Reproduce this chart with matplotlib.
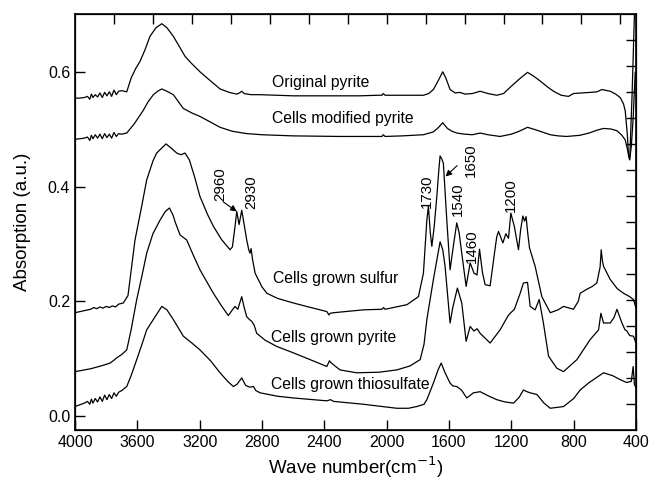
import numpy as np
from matplotlib import pyplot as plt

plt.rcParams['font.family'] = ['Liberation Sans', 'DejaVu Sans']
plt.rcParams['axes.unicode_minus'] = False

# wavenumber (cm-1) / absorbance
orig_w = [4000, 3970, 3940, 3920, 3905, 3895, 3885, 3870, 3855, 3840, 3825, 3810, 3795, 3780,
          3765, 3750, 3735, 3720, 3700, 3668, 3640, 3610, 3583, 3550, 3519, 3480, 3443, 3410,
          3369, 3330, 3294, 3250, 3198, 3130, 3069, 3010, 2962, 2945, 2930, 2915, 2870, 2812,
          2600, 2400, 2170, 2060, 2030, 2022, 2010, 1900, 1764, 1730, 1700, 1670, 1640, 1620,
          1593, 1560, 1530, 1496, 1450, 1400, 1350, 1293, 1250, 1207, 1150, 1096, 1060, 1015,
          970, 929, 880, 833, 801, 750, 694, 650, 619, 565, 530, 501, 480, 469, 455, 448,
          440, 425, 410, 402]
orig_a = [0.555, 0.555, 0.556, 0.558, 0.553, 0.562, 0.556, 0.561, 0.557, 0.564, 0.556, 0.565,
          0.559, 0.566, 0.558, 0.569, 0.561, 0.567, 0.568, 0.566, 0.590, 0.607, 0.619, 0.640,
          0.663, 0.678, 0.685, 0.678, 0.663, 0.645, 0.628, 0.615, 0.601, 0.585, 0.571, 0.565,
          0.562, 0.564, 0.567, 0.563, 0.561, 0.561, 0.559, 0.559, 0.559, 0.560, 0.560, 0.563,
          0.560, 0.560, 0.560, 0.563, 0.570, 0.585, 0.601, 0.590, 0.570, 0.564, 0.565, 0.562,
          0.563, 0.567, 0.563, 0.560, 0.563, 0.574, 0.588, 0.600, 0.594, 0.585, 0.575, 0.567,
          0.560, 0.558, 0.563, 0.564, 0.565, 0.566, 0.570, 0.567, 0.562, 0.556, 0.545, 0.533,
          0.490, 0.455, 0.448, 0.560, 0.700, 0.760]

mod_w = [4000, 3970, 3940, 3920, 3905, 3895, 3885, 3870, 3855, 3840, 3825, 3810, 3795, 3780,
         3765, 3750, 3735, 3720, 3700, 3668, 3620, 3561, 3530, 3497, 3470, 3443, 3410, 3369,
         3305, 3250, 3198, 3130, 3069, 2990, 2898, 2800, 2600, 2299, 2030, 2022, 2010, 1900,
         1764, 1700, 1670, 1640, 1610, 1580, 1550, 1500, 1450, 1400, 1350, 1272, 1200, 1150,
         1096, 1060, 1015, 950, 900, 844, 760, 700, 650, 608, 560, 522, 490, 469, 450, 441,
         430, 418, 405]
mod_a = [0.483, 0.484, 0.485, 0.487, 0.481, 0.490, 0.484, 0.491, 0.485, 0.492, 0.484, 0.493,
         0.486, 0.492, 0.485, 0.495, 0.488, 0.493, 0.492, 0.494, 0.510, 0.534, 0.549, 0.561,
         0.567, 0.571, 0.567, 0.561, 0.537, 0.529, 0.523, 0.513, 0.504, 0.497, 0.493, 0.491,
         0.489, 0.488, 0.488, 0.491, 0.488, 0.489, 0.491, 0.496, 0.503, 0.512, 0.502, 0.497,
         0.494, 0.492, 0.491, 0.494, 0.491, 0.488, 0.492, 0.497, 0.504, 0.501, 0.497, 0.491,
         0.489, 0.488, 0.490, 0.494, 0.499, 0.502, 0.501, 0.498, 0.490, 0.482, 0.460, 0.447,
         0.470, 0.520, 0.600]

sulf_w = [4000, 3950, 3900, 3880, 3860, 3840, 3820, 3800, 3780, 3760, 3740, 3720, 3690, 3660,
          3615, 3575, 3540, 3500, 3476, 3416, 3380, 3347, 3320, 3294, 3266, 3230, 3198, 3150,
          3112, 3060, 3005, 2990, 2973, 2962, 2947, 2930, 2915, 2898, 2885, 2877, 2870, 2860,
          2844, 2800, 2769, 2700, 2599, 2500, 2384, 2370, 2363, 2340, 2149, 2030, 2020, 2010,
          1870, 1796, 1764, 1742, 1732, 1720, 1710, 1695, 1678, 1665, 1657, 1645, 1636, 1614,
          1593, 1570, 1550, 1535, 1518, 1490, 1464, 1439, 1420, 1404, 1385, 1368, 1336, 1300,
          1293, 1282, 1254, 1235, 1218, 1203, 1180, 1154, 1140, 1126, 1115, 1105, 1095, 1083,
          1047, 1004, 950, 900, 865, 801, 770, 758, 715, 680, 651, 630, 623, 615, 608, 565,
          520, 480, 440, 416, 402]
sulf_a = [0.180, 0.183, 0.186, 0.189, 0.187, 0.190, 0.188, 0.191, 0.189, 0.192, 0.190, 0.195,
          0.197, 0.210, 0.307, 0.362, 0.412, 0.445, 0.459, 0.475, 0.467, 0.459, 0.456, 0.459,
          0.447, 0.415, 0.383, 0.352, 0.331, 0.308, 0.290, 0.295, 0.331, 0.357, 0.334, 0.359,
          0.335, 0.307, 0.290, 0.284, 0.292, 0.272, 0.249, 0.225, 0.214, 0.205, 0.197, 0.190,
          0.182, 0.176, 0.179, 0.180, 0.185, 0.186, 0.189, 0.186, 0.194, 0.208, 0.249, 0.342,
          0.366, 0.320, 0.296, 0.330, 0.383, 0.430, 0.454, 0.448, 0.441, 0.342, 0.255, 0.300,
          0.337, 0.320, 0.284, 0.226, 0.267, 0.249, 0.246, 0.291, 0.250, 0.229, 0.227, 0.300,
          0.313, 0.322, 0.302, 0.318, 0.310, 0.354, 0.330, 0.290, 0.325, 0.349, 0.340, 0.348,
          0.320, 0.293, 0.261, 0.208, 0.180, 0.185, 0.191, 0.186, 0.200, 0.214, 0.221, 0.226,
          0.232, 0.260, 0.290, 0.270, 0.261, 0.238, 0.222, 0.214, 0.208, 0.203, 0.190]

pyr_w = [4000, 3900, 3820, 3775, 3750, 3733, 3700, 3668, 3640, 3604, 3570, 3540, 3500, 3454,
         3420, 3394, 3370, 3358, 3326, 3283, 3240, 3198, 3150, 3112, 3060, 3016, 2990, 2973,
         2955, 2945, 2930, 2915, 2898, 2880, 2866, 2850, 2834, 2780, 2705, 2600, 2491, 2384,
         2367, 2355, 2299, 2192, 2050, 1935, 1850, 1785, 1760, 1742, 1700, 1657, 1640, 1625,
         1593, 1575, 1546, 1518, 1490, 1464, 1440, 1420, 1400, 1336, 1272, 1220, 1207, 1180,
         1143, 1122, 1096, 1079, 1047, 1021, 994, 961, 908, 865, 779, 694, 640, 625, 608, 565,
         540, 522, 490, 470, 458, 440, 416, 402]
pyr_a = [0.077, 0.082, 0.088, 0.092, 0.097, 0.101, 0.107, 0.115, 0.150, 0.203, 0.245, 0.284,
         0.318, 0.342, 0.357, 0.363, 0.350, 0.339, 0.316, 0.307, 0.280, 0.255, 0.232, 0.214,
         0.192, 0.175, 0.185, 0.191, 0.186, 0.195, 0.208, 0.190, 0.173, 0.168, 0.165, 0.158,
         0.144, 0.132, 0.121, 0.110, 0.098, 0.086, 0.096, 0.092, 0.080, 0.075, 0.076, 0.080,
         0.087, 0.098, 0.125, 0.168, 0.238, 0.304, 0.290, 0.261, 0.162, 0.190, 0.223, 0.197,
         0.130, 0.156, 0.148, 0.152, 0.144, 0.127, 0.150, 0.175, 0.179, 0.186, 0.214, 0.232,
         0.233, 0.191, 0.185, 0.203, 0.162, 0.104, 0.083, 0.077, 0.098, 0.133, 0.150, 0.179,
         0.162, 0.162, 0.172, 0.186, 0.162, 0.150, 0.148, 0.140, 0.139, 0.128]

thio_w = [4000, 3970, 3940, 3920, 3905, 3895, 3885, 3870, 3855, 3840, 3825, 3810, 3795, 3780,
          3765, 3750, 3735, 3720, 3700, 3668, 3640, 3604, 3570, 3540, 3486, 3443, 3410, 3369,
          3305, 3250, 3198, 3130, 3069, 3020, 2984, 2960, 2930, 2905, 2880, 2855, 2840, 2812,
          2700, 2599, 2384, 2360, 2340, 2149, 1935, 1860, 1807, 1760, 1742, 1700, 1670, 1650,
          1625, 1593, 1575, 1550, 1520, 1486, 1443, 1420, 1400, 1350, 1293, 1240, 1186, 1150,
          1122, 1100, 1079, 1036, 990, 950, 865, 800, 758, 700, 608, 550, 501, 460, 430, 418,
          410, 402]
thio_a = [0.016, 0.019, 0.022, 0.025, 0.020, 0.029, 0.022, 0.030, 0.024, 0.033, 0.025, 0.036,
          0.028, 0.037, 0.030, 0.040, 0.034, 0.041, 0.044, 0.051, 0.070, 0.098, 0.125, 0.150,
          0.173, 0.191, 0.185, 0.168, 0.139, 0.127, 0.115, 0.096, 0.075, 0.060, 0.051, 0.055,
          0.066, 0.053, 0.050, 0.051, 0.044, 0.040, 0.034, 0.031, 0.026, 0.028, 0.025, 0.020,
          0.013, 0.013, 0.016, 0.020, 0.028, 0.057, 0.080, 0.092, 0.075, 0.057, 0.052, 0.051,
          0.045, 0.031, 0.040, 0.041, 0.042, 0.035, 0.028, 0.024, 0.022, 0.032, 0.045, 0.042,
          0.040, 0.037, 0.022, 0.013, 0.016, 0.030, 0.045, 0.058, 0.075, 0.070, 0.063, 0.058,
          0.060, 0.086, 0.055, 0.050]

spectra = [(orig_w, orig_a), (mod_w, mod_a), (sulf_w, sulf_a), (pyr_w, pyr_a), (thio_w, thio_a)]

# curve names and where they sit (wavenumber, absorbance)
names = ["Original pyrite", "Cells modified pyrite", "Cells grown sulfur",
         "Cells grown pyrite", "Cells grown thiosulfate"]
name_pos = [(2737, 0.582), (2737, 0.520), (2727, 0.240), (2744, 0.136), (2744, 0.054)]

# band labels: text, text centre, arrow (tail, tip) or None
peak_lbl = ["2960", "2930", "1730", "1650", "1540", "1460", "1200"]
peak_txt = [(3069, 0.405), (2866, 0.390), (1745, 0.392), (1460, 0.447),
            (1544, 0.379), (1455, 0.296), (1202, 0.386)]
peak_arr = [((3050, 0.374), (2962, 0.357)), None, None,
            ((1548, 0.437), (1622, 0.418)), None, None, None]

fig = plt.figure(figsize=(6.5, 4.86), dpi=100)
ax = fig.add_axes([0.1154, 0.1152, 0.863, 0.856])

for w, a in spectra:
    ax.plot(w, a, color='black', lw=0.9)

for t, (x, y) in zip(names, name_pos):
    ax.text(x, y, t, fontsize=11.3, ha='left', va='center')

for t, (x, y), arr in zip(peak_lbl, peak_txt, peak_arr):
    ax.text(x, y, t, fontsize=10.8, rotation=90, ha='center', va='center')
    if arr is not None:
        ax.annotate("", xy=arr[1], xytext=arr[0],
                    arrowprops=dict(arrowstyle='-|>', color='black', lw=0.8,
                                    mutation_scale=9, shrinkA=0, shrinkB=0))

ax.set_xlim(4000, 400)
ax.set_ylim(-0.025, 0.702)
ax.set_xticks(np.arange(4000, 399, -400))
ax.set_yticks([0.0, 0.2, 0.4, 0.6])
ax.tick_params(direction='in', length=7, width=1, labelsize=11.5, right=False, top=False)
for s in ax.spines.values():
    s.set_linewidth(1.2)

# top and right axes carry their own unlabelled tick spacing
axt = ax.twiny()
axt.set_xlim(4000, 400)
axt.set_xticks(np.arange(3750, 499, -250))
axt.tick_params(direction='in', length=7, width=1, labeltop=False)
axr = axt.twinx()
axr.set_ylim(0, 16)
axr.set_yticks(np.arange(1, 16))
axr.tick_params(direction='in', length=7, width=1, labelright=False)

ax.set_xlabel("Wave number(cm$^{-1}$)", fontsize=13.5, labelpad=3)
ax.set_ylabel("Absorption (a.u.)", fontsize=13.5, labelpad=12)

fig.savefig("out.png", dpi=100)
